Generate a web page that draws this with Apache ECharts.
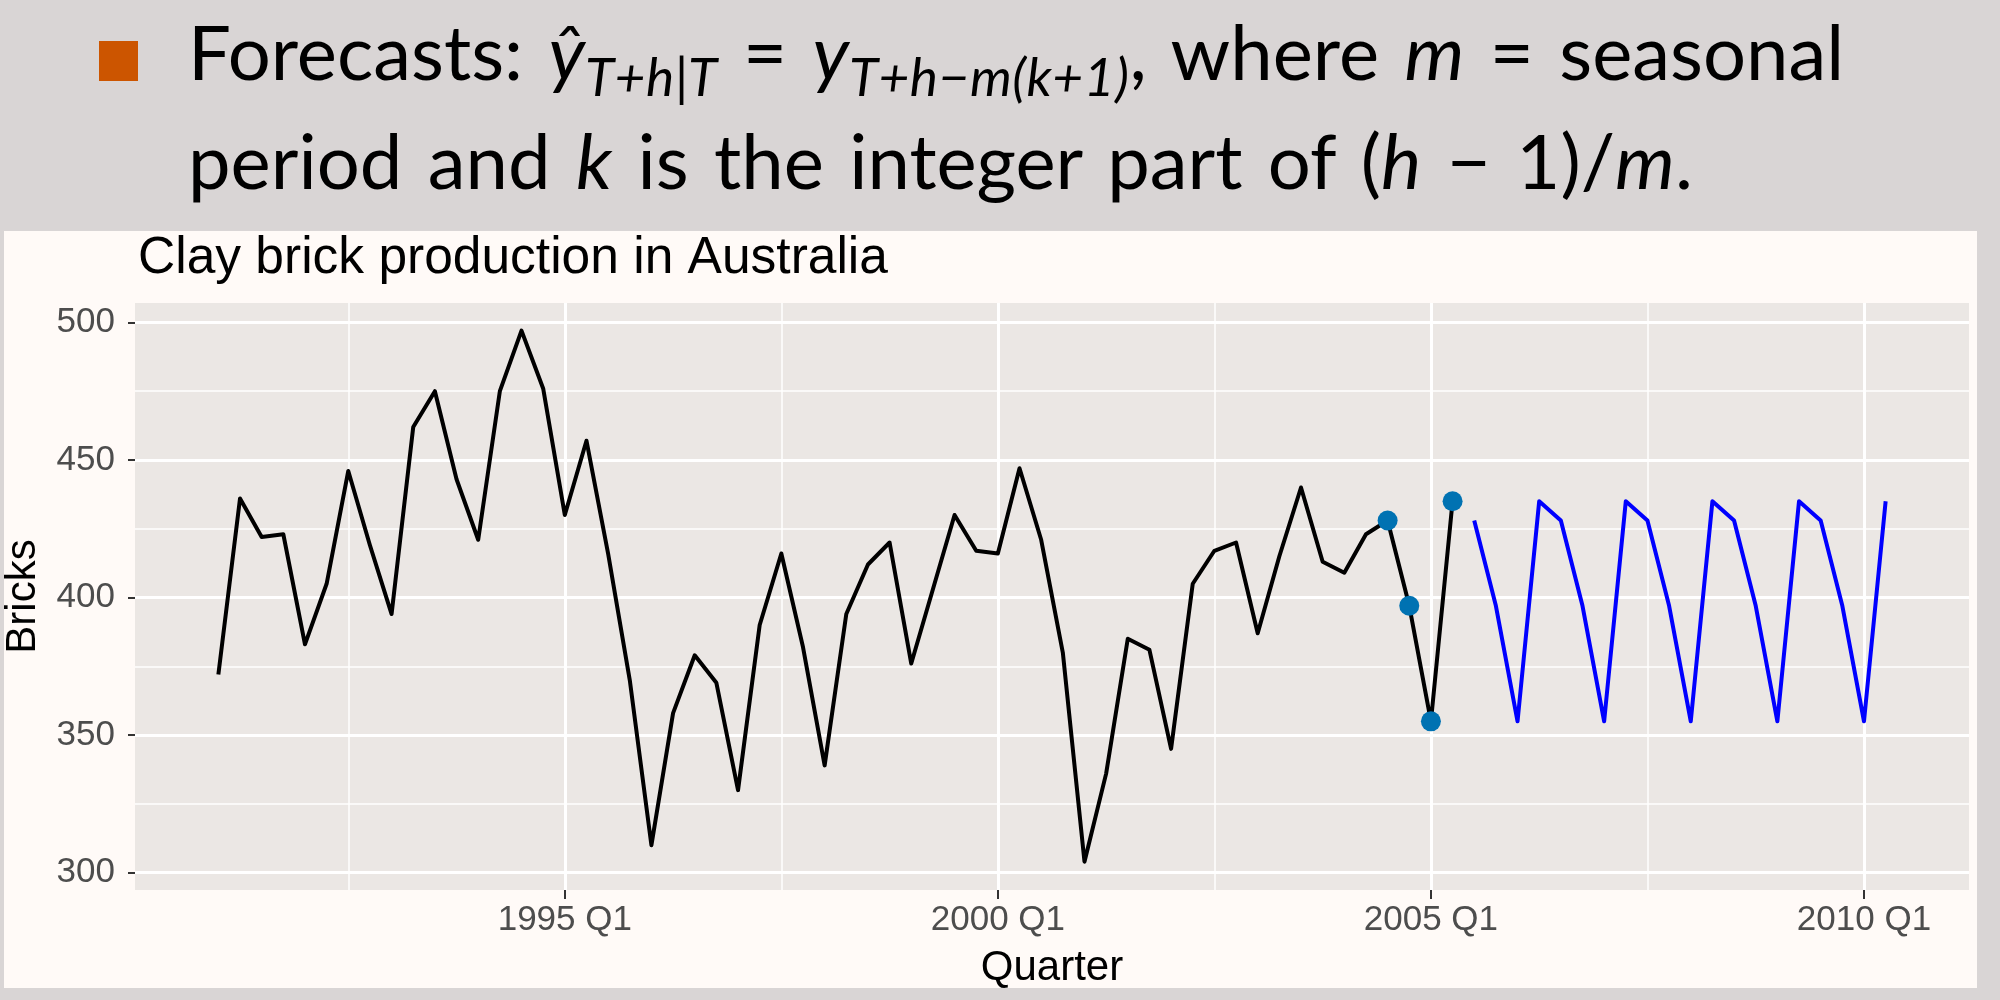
<!DOCTYPE html>
<html>
<head>
<meta charset="utf-8">
<script src="https://cdn.jsdelivr.net/npm/echarts@6/dist/echarts.min.js"></script>
<style>
  html, body { margin: 0; padding: 0; width: 2000px; height: 1000px; overflow: hidden; background: #d9d5d5; }
  #bullet { position: absolute; left: 99px; top: 41px; width: 39px; height: 40px; background: #cc5500; }
  .line { position: absolute; left: 188px; font-family: Lato, "Open Sans", sans-serif; font-size: 76px; line-height: 1; color: #000; white-space: nowrap; word-spacing: 6px; }
  #l1 { top: 13px; }
  #l2 { top: 122px; }
  .m { font-style: italic; }
  .sub { font-size: 0.7em; vertical-align: -0.3em; font-style: italic; letter-spacing: 0.01em; }
  #chart { position: absolute; left: 4px; top: 231px; width: 1973px; height: 757px; background: #fffaf7; }
</style>
</head>
<body>
<div id="bullet"></div>
<div class="line" id="l1">Forecasts: <span class="m">ŷ</span><span class="sub">T+h|T</span> = <span class="m">y</span><span class="sub">T+h−m(k+1)</span>, where <span class="m">m</span> = seasonal</div>
<div class="line" id="l2">period and <span class="m">k</span> is the integer part of (<span class="m">h</span> − 1)/<span class="m">m</span>.</div>
<div id="chart"></div>
<script>
// ---------------- data ----------------
const chartTitle = 'Clay brick production in Australia';
const xTitle = 'Quarter';
const yTitle = 'Bricks';

const firstQuarter = '1991 Q1';
const bricks = [
  372, 436, 422, 423,
  383, 405, 446, 419,
  394, 462, 475, 443,
  421, 475, 497, 476,
  430, 457, 416, 370,
  310, 358, 379, 369,
  330, 390, 416, 382,
  339, 394, 412, 420,
  376, 403, 430, 417,
  416, 447, 421, 380,
  304, 336, 385, 381,
  345, 405, 417, 420,
  387, 415, 440, 413,
  409, 423, 428, 397,
  355, 435
];

const forecastFirstQuarter = '2005 Q3';
const forecast = [
  428, 397, 355, 435,
  428, 397, 355, 435,
  428, 397, 355, 435,
  428, 397, 355, 435,
  428, 397, 355, 435
];

const highlightQuarters = ['2004 Q3', '2004 Q4', '2005 Q1', '2005 Q2'];
const highlightValues = [428, 397, 355, 435];

const xTickLabels = ['1995 Q1', '2000 Q1', '2005 Q1', '2010 Q1'];
const xMinorBreaks = ['1992 Q3', '1997 Q3', '2002 Q3', '2007 Q3'];
const yTicks = [300, 350, 400, 450, 500];
const yMinorBreaks = [325, 375, 425, 475];

// ---------------- helpers ----------------
function qNum(label) {
  const parts = label.split(' Q');
  return Number(parts[0]) + (Number(parts[1]) - 1) / 4;
}
function seriesPoints(startLabel, values) {
  const s = qNum(startLabel);
  return values.map((v, i) => [s + i / 4, v]);
}

const histData = seriesPoints(firstQuarter, bricks);
const fcData = seriesPoints(forecastFirstQuarter, forecast);
const dotData = highlightQuarters.map((q, i) => [qNum(q), highlightValues[i]]);

const xTickValues = xTickLabels.map(qNum);
const xMinorValues = xMinorBreaks.map(qNum);

// ggplot-like 5% expansion on x
const allX = histData.concat(fcData).map(d => d[0]);
const xLo = Math.min(...allX), xHi = Math.max(...allX);
const xPad = (xHi - xLo) * 0.05;
const xMin = xLo - xPad, xMax = xHi + xPad;
// y limits
const yMin = 293.7, yMax = 507.05;

const FONT = 'Liberation Sans';

const chart = echarts.init(document.getElementById('chart'));
chart.setOption({
  animation: false,
  backgroundColor: 'transparent',
  title: {
    text: chartTitle,
    left: 134, top: 2, padding: 0,
    textStyle: { fontFamily: FONT, fontSize: 51.5, fontWeight: 'normal', color: '#000' }
  },
  grid: {
    left: 131, top: 72, right: 8, bottom: 98,
    show: true, backgroundColor: '#ebe7e4', borderWidth: 0,
    containLabel: false, outerBoundsMode: 'none'
  },
  xAxis: [
    {
      type: 'value', min: xMin, max: xMax, position: 'bottom',
      axisLine: { show: false },
      axisTick: { show: true, customValues: xTickValues, length: 9, lineStyle: { color: '#333', width: 2 } },
      axisLabel: {
        customValues: xTickValues, margin: 13,
        color: '#4d4d4d', fontFamily: FONT, fontSize: 35,
        formatter: v => {
          const i = xTickValues.findIndex(t => Math.abs(t - v) < 1e-6);
          return i >= 0 ? xTickLabels[i] : '';
        }
      },
      splitLine: { show: true, lineStyle: { color: '#ffffff', width: 3 } },
      name: xTitle, nameLocation: 'middle', nameGap: 57,
      nameTextStyle: { color: '#000', fontFamily: FONT, fontSize: 42 }
    },
    {
      type: 'value', min: xMin, max: xMax, position: 'top',
      axisLine: { show: false },
      axisTick: { show: false, customValues: xMinorValues },
      axisLabel: { show: false, customValues: xMinorValues },
      splitLine: { show: true, lineStyle: { color: '#ffffff', width: 1.5 } }
    }
  ],
  yAxis: [
    {
      type: 'value', min: yMin, max: yMax, position: 'left',
      axisLine: { show: false },
      axisTick: { show: true, customValues: yTicks, length: 7, lineStyle: { color: '#333', width: 2 } },
      axisLabel: { customValues: yTicks, margin: 20, color: '#4d4d4d', fontFamily: FONT, fontSize: 35 },
      splitLine: { show: true, lineStyle: { color: '#ffffff', width: 3 } },
      name: yTitle, nameLocation: 'middle', nameGap: 91, nameRotate: 90,
      nameTextStyle: { color: '#000', fontFamily: FONT, fontSize: 42 }
    },
    {
      type: 'value', min: yMin, max: yMax, position: 'right',
      axisLine: { show: false },
      axisTick: { show: false, customValues: yMinorBreaks },
      axisLabel: { show: false, customValues: yMinorBreaks },
      splitLine: { show: true, lineStyle: { color: '#ffffff', width: 1.5 } }
    }
  ],
  series: [
    {
      name: 'Bricks', type: 'line', xAxisIndex: 0, yAxisIndex: 0,
      data: histData, showSymbol: false, z: 3,
      lineStyle: { color: '#000000', width: 4, join: 'round' }
    },
    {
      name: 'Forecast', type: 'line', xAxisIndex: 0, yAxisIndex: 0,
      data: fcData, showSymbol: false, z: 3,
      lineStyle: { color: '#0000ff', width: 4, join: 'round' }
    },
    {
      name: 'Last season', type: 'scatter', xAxisIndex: 0, yAxisIndex: 0,
      data: dotData, symbol: 'circle', symbolSize: 20, z: 5,
      itemStyle: { color: '#0072b2', opacity: 1 }
    }
  ]
});
</script>
</body>
</html>
